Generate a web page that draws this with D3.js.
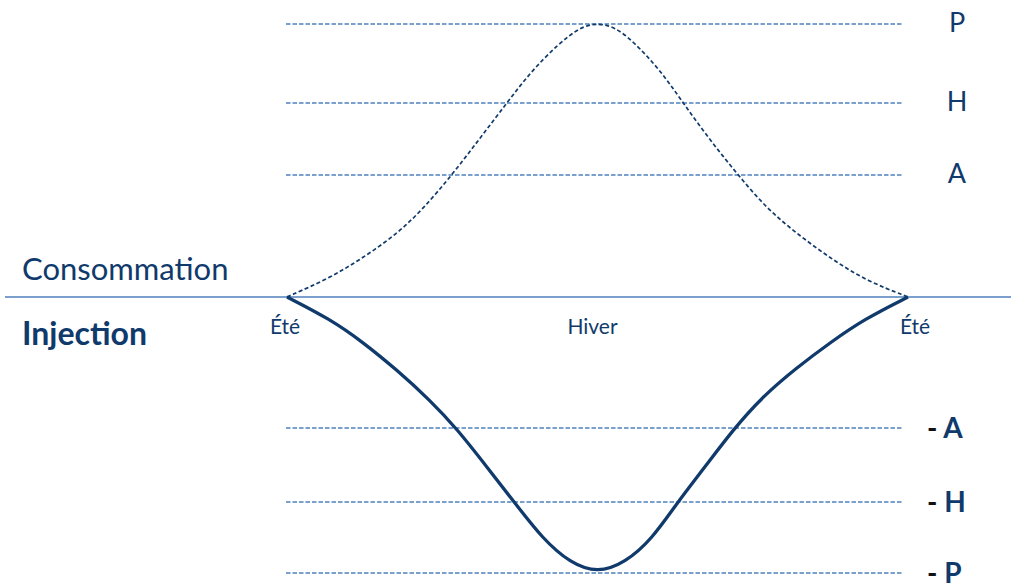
<!DOCTYPE html>
<html>
<head>
<meta charset="utf-8">
<script src="https://cdn.jsdelivr.net/npm/d3@7"></script>
<style>
  body { margin: 0; background: #fff; }
  svg { display: block; font-family: Lato, "Open Sans", sans-serif; }
</style>
</head>
<body>
<svg id="chart" width="1011" height="585"></svg>
<script>
// position in the year (0 = été, 0.5 = hiver, 1 = été)
var season = [0, 0.069, 0.122, 0.177, 0.219, 0.267, 0.311, 0.354, 0.391, 0.435, 0.472, 0.5,
              0.528, 0.557, 0.601, 0.638, 0.681, 0.725, 0.773, 0.826, 0.879, 0.934, 1];
var consommation = [0, 19, 39, 63, 88, 123, 159, 194, 224, 252, 270, 274,
                    270, 256, 227, 194, 157, 123, 88, 61, 37, 16, 0];
var injectionSeason = [0, 0.069, 0.122, 0.177, 0.230, 0.274, 0.322, 0.367, 0.412, 0.456, 0.5,
                       0.544, 0.588, 0.628, 0.673, 0.718, 0.765, 0.820, 0.876, 0.930, 1];
var injection = [0, -22, -45, -73, -103, -132, -170, -206, -242, -266, -276,
                 -266, -242, -206, -170, -133, -100, -71, -45, -22, 0];

var upperLevels = ['P', 'H', 'A'];
var upperValues = [273, 194, 122];
var lowerLevels = ['A', 'H', 'P'];
var lowerValues = [-131, -205, -276];

var seasonLabels = ['Été', 'Hiver', 'Été'];
var seasonTicks = [0, 0.5, 1];

var navy = '#103a6b';
var gridBlue = '#4f81bd';

var svg = d3.select('#chart');

var x = d3.scaleLinear().domain([0, 1]).range([287, 908]);
var y = d3.scaleLinear().domain([0, 272]).range([297, 25]);

// grid lines for the levels
svg.selectAll('line.grid')
  .data(upperValues.concat(lowerValues)).enter()
  .append('line')
  .attr('class', 'grid')
  .attr('x1', x(0) - 1)
  .attr('x2', x(1) - 6)
  .attr('y1', function(d) { return y(d); })
  .attr('y2', function(d) { return y(d); })
  .attr('stroke', gridBlue)
  .attr('stroke-width', 1.35)
  .attr('stroke-dasharray', '4.5,2');

// zero line
svg.append('line')
  .attr('x1', 5)
  .attr('x2', 1011)
  .attr('y1', y(0))
  .attr('y2', y(0))
  .attr('stroke', gridBlue)
  .attr('stroke-width', 1.5);

var line = d3.line()
  .x(function(d) { return x(d[0]); })
  .y(function(d) { return y(d[1]); })
  .curve(d3.curveBasis);

svg.append('path')
  .datum(d3.zip(season, consommation))
  .attr('d', line)
  .attr('fill', 'none')
  .attr('stroke', navy)
  .attr('stroke-width', 1.7)
  .attr('stroke-dasharray', '4,2.5');

svg.append('path')
  .datum(d3.zip(injectionSeason, injection))
  .attr('d', line)
  .attr('fill', 'none')
  .attr('stroke', navy)
  .attr('stroke-width', 3.3);

// level labels
svg.selectAll('text.up')
  .data(upperLevels).enter()
  .append('text')
  .attr('class', 'up')
  .attr('x', 957)
  .attr('y', function(d, i) { return y(upperValues[i]) + 8; })
  .attr('text-anchor', 'middle')
  .attr('font-size', '27px')
  .attr('fill', navy)
  .text(function(d) { return d; });

var low = svg.selectAll('text.low')
  .data(lowerLevels).enter()
  .append('text')
  .attr('class', 'low')
  .attr('x', 927)
  .attr('y', function(d, i) { return y(lowerValues[i]) + 10; })
  .attr('font-size', '28px')
  .attr('font-weight', 'bold');
low.append('tspan').attr('fill', '#111').text('- ');
low.append('tspan').attr('fill', navy).text(function(d) { return d; });

// seasons
var seasonShift = [-2, -5, 7];
svg.selectAll('text.season')
  .data(seasonLabels).enter()
  .append('text')
  .attr('class', 'season')
  .attr('x', function(d, i) { return x(seasonTicks[i]) + seasonShift[i]; })
  .attr('y', 334)
  .attr('text-anchor', 'middle')
  .attr('font-size', '21px')
  .attr('fill', navy)
  .text(function(d) { return d; });

svg.append('text')
  .attr('x', 22)
  .attr('y', 280)
  .attr('font-size', '31px')
  .attr('fill', navy)
  .text('Consommation');

svg.append('text')
  .attr('x', 22)
  .attr('y', 345)
  .attr('font-size', '32px')
  .attr('font-weight', 'bold')
  .attr('fill', navy)
  .text('Injection');
</script>
</body>
</html>
